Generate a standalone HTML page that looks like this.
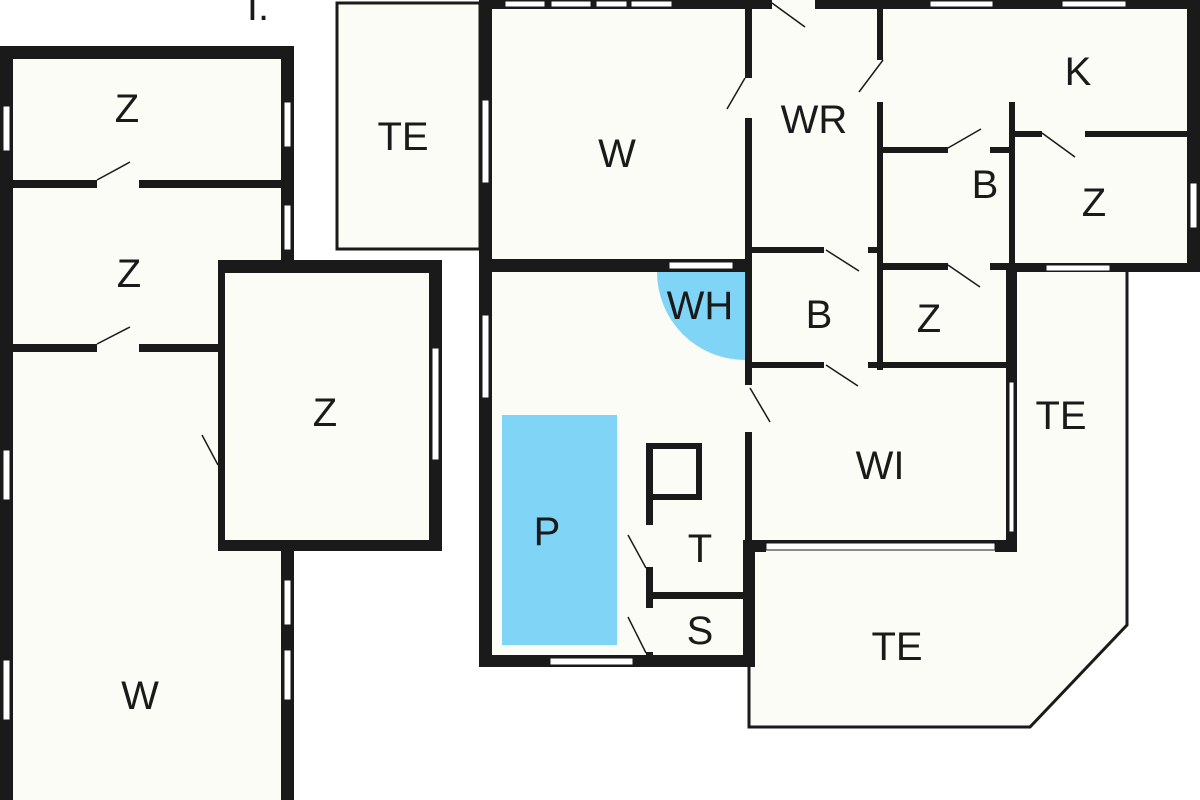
<!DOCTYPE html>
<html><head><meta charset="utf-8"><style>
html,body{margin:0;padding:0;background:#fff;}
svg{display:block;}
text{font-family:"Liberation Sans",sans-serif;font-size:40px;fill:#1a1a1a;text-anchor:middle;}
</style></head><body>
<svg width="1200" height="800" viewBox="0 0 1200 800" xmlns="http://www.w3.org/2000/svg">
<g fill="#fcfcf6">
<rect x="0" y="46" width="294" height="754"/>
<rect x="218" y="260" width="224" height="291"/>
<rect x="336" y="2" width="144" height="248"/>
<rect x="479" y="0" width="721" height="272"/>
<rect x="479" y="272" width="538" height="395"/>
<polygon points="749,540 1017,540 1017,272 1127,272 1127,625 1030,727 749,727"/>
</g>
<!-- blue -->
<rect x="502" y="415" width="115" height="230" fill="#80d4f6"/>
<path d="M745,272 L657,272 A88,88 0 0 0 745,360 Z" fill="#80d4f6"/>
<g fill="#1a1a1a">
<!-- left building -->
<rect x="0" y="46" width="294" height="13"/>
<rect x="0" y="46" width="13" height="754"/>
<rect x="281" y="46" width="13" height="226"/>
<rect x="218" y="260" width="224" height="13"/>
<rect x="429" y="260" width="13" height="291"/>
<rect x="218" y="540" width="224" height="11"/>
<rect x="281" y="540" width="13" height="260"/>
<rect x="218" y="260" width="7" height="291"/>
<rect x="13" y="180" width="84" height="8"/>
<rect x="139" y="180" width="142" height="8"/>
<rect x="13" y="344" width="84" height="8"/>
<rect x="139" y="344" width="79" height="8"/>
<!-- main -->
<rect x="479" y="0" width="721" height="9"/>
<rect x="479" y="0" width="13" height="667"/>
<rect x="1187" y="0" width="13" height="272"/>
<rect x="479" y="259" width="273" height="13"/>
<rect x="745" y="0" width="7" height="78"/>
<rect x="745" y="118" width="7" height="267"/>
<rect x="745" y="432" width="7" height="110"/>
<rect x="743" y="540" width="12" height="127"/>
<rect x="743" y="540" width="23" height="12"/>
<rect x="749" y="540" width="268" height="4"/>
<rect x="995" y="540" width="22" height="12"/>
<rect x="479" y="655" width="276" height="12"/>
<rect x="877" y="0" width="6" height="60"/>
<rect x="877" y="102" width="6" height="268"/>
<rect x="883" y="147" width="65" height="6"/>
<rect x="990" y="147" width="25" height="6"/>
<rect x="1009" y="102" width="6" height="170"/>
<rect x="1015" y="131" width="27" height="6"/>
<rect x="1085" y="131" width="102" height="6"/>
<rect x="1009" y="263" width="191" height="9"/>
<rect x="883" y="263" width="65" height="7"/>
<rect x="990" y="263" width="25" height="7"/>
<rect x="752" y="247" width="72" height="6"/>
<rect x="868" y="247" width="12" height="6"/>
<rect x="752" y="362" width="72" height="6"/>
<rect x="868" y="362" width="145" height="6"/>
<rect x="1006" y="263" width="11" height="289"/>
<!-- shower/toilet -->
<rect x="646" y="443" width="7" height="82"/>
<rect x="646" y="443" width="56" height="6"/>
<rect x="696" y="443" width="6" height="57"/>
<rect x="653" y="494" width="49" height="6"/>
<rect x="646" y="567" width="7" height="41"/>
<rect x="653" y="592" width="92" height="7"/>
<rect x="646" y="652" width="7" height="10"/>
</g>
<!-- windows -->
<g fill="#fff" stroke="#1a1a1a" stroke-width="1">
<rect x="3" y="106" width="7" height="45"/>
<rect x="284" y="102" width="7" height="45"/>
<rect x="284" y="205" width="7" height="45"/>
<rect x="432" y="348" width="7" height="112"/>
<rect x="3" y="450" width="7" height="50"/>
<rect x="3" y="660" width="7" height="60"/>
<rect x="284" y="580" width="7" height="45"/>
<rect x="284" y="650" width="7" height="50"/>
<rect x="482" y="100" width="7" height="83"/>
<rect x="482" y="315" width="7" height="83"/>
<rect x="505" y="1" width="40" height="6"/>
<rect x="551" y="1" width="40" height="6"/>
<rect x="596" y="1" width="31" height="6"/>
<rect x="631" y="1" width="41" height="6"/>
<rect x="930" y="1" width="63" height="6"/>
<rect x="1062" y="1" width="64" height="6"/>
<rect x="1190" y="183" width="7" height="45"/>
<rect x="669" y="262" width="64" height="7"/>
<rect x="1046" y="265" width="64" height="6"/>
<rect x="766" y="543" width="229" height="7"/>
<rect x="550" y="658" width="83" height="7"/>
<rect x="1009" y="382" width="5" height="150"/>
</g>
<g fill="#fcfcf6"><rect x="772" y="0" width="43" height="9"/></g>
<!-- thin outlines -->
<g fill="none" stroke="#1a1a1a" stroke-width="3">
<rect x="337" y="3" width="143" height="246"/>
<polyline points="1127,272 1127,625 1030,727 749,727 749,667"/>
</g>
<!-- door leaves -->
<g stroke="#1a1a1a" stroke-width="1.5">
<line x1="97" y1="180" x2="130" y2="162"/>
<line x1="97" y1="344" x2="130" y2="327"/>
<line x1="218" y1="465" x2="202" y2="435"/>
<line x1="745" y1="78" x2="727" y2="109"/>
<line x1="772" y1="3" x2="805" y2="27"/>
<line x1="883" y1="60" x2="859" y2="92"/>
<line x1="948" y1="148" x2="981" y2="129"/>
<line x1="1042" y1="133" x2="1075" y2="157"/>
<line x1="948" y1="265" x2="980" y2="287"/>
<line x1="826" y1="250" x2="859" y2="271"/>
<line x1="826" y1="365" x2="858" y2="386"/>
<line x1="750" y1="388" x2="770" y2="422"/>
<line x1="646" y1="568" x2="628" y2="535"/>
<line x1="646" y1="653" x2="628" y2="617"/>
</g>
<text x="258" y="20">I.</text>
<text x="127" y="122">Z</text>
<text x="129" y="287">Z</text>
<text x="325" y="426">Z</text>
<text x="140" y="709">W</text>
<text x="403" y="150">TE</text>
<text x="617" y="167">W</text>
<text x="814" y="133">WR</text>
<text x="1078" y="85">K</text>
<text x="985" y="198">B</text>
<text x="1094" y="216">Z</text>
<text x="700" y="319">WH</text>
<text x="819" y="328">B</text>
<text x="929" y="332">Z</text>
<text x="1061" y="429">TE</text>
<text x="880" y="479">WI</text>
<text x="547" y="545">P</text>
<text x="700" y="562">T</text>
<text x="700" y="644">S</text>
<text x="897" y="660">TE</text>
</svg>
</body></html>
